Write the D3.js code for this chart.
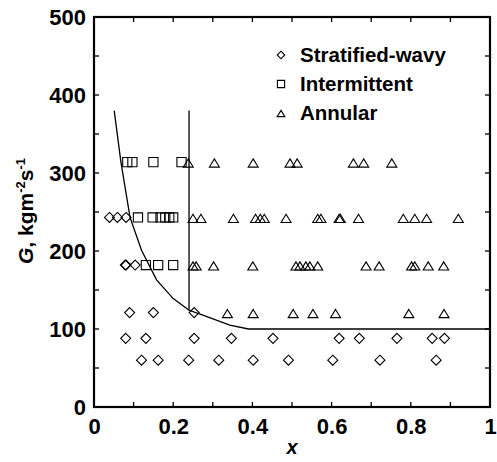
<!DOCTYPE html>
<html>
<head>
<meta charset="utf-8">
<script src="https://cdn.jsdelivr.net/npm/d3@7"></script>
<style>
  html, body { margin: 0; padding: 0; background: #fff; }
  svg { display: block; }
  text { font-family: "Liberation Sans", Arial, Helvetica, sans-serif; font-weight: bold; fill: #000; }
</style>
</head>
<body>
<svg id="chart" width="497" height="462"></svg>
<script>
// Flow-pattern observations: vapour quality x and mass flux G (kg m^-2 s^-1)
const stratifiedX = [0.039, 0.059, 0.081,
                     0.079, 0.081, 0.104,
                     0.09, 0.15, 0.253,
                     0.08, 0.131, 0.253, 0.347, 0.452, 0.619, 0.67, 0.765, 0.854, 0.885,
                     0.12, 0.162, 0.239, 0.315, 0.402, 0.491, 0.603, 0.722, 0.864];
const stratifiedG = [243, 243, 243,
                     182, 182, 182,
                     121, 121, 121,
                     88, 88, 88, 88, 88, 88, 88, 88, 88, 88,
                     60, 60, 60, 60, 60, 60, 60, 60, 60];

const intermittentX = [0.084, 0.097, 0.15, 0.221,
                       0.111, 0.148, 0.168, 0.18, 0.19, 0.2,
                       0.131, 0.162, 0.2];
const intermittentG = [314, 314, 314, 314,
                       243, 243, 243, 243, 243, 243,
                       182, 182, 182];

const annularX = [0.238, 0.304, 0.402, 0.495, 0.513, 0.655, 0.681, 0.752,
                  0.25, 0.27, 0.352, 0.408, 0.42, 0.43, 0.485, 0.565, 0.573, 0.619, 0.622, 0.668, 0.781, 0.81, 0.84, 0.92,
                  0.25, 0.258, 0.302, 0.401, 0.51, 0.52, 0.535, 0.545, 0.565, 0.687, 0.72, 0.802, 0.81, 0.844, 0.883,
                  0.337, 0.402, 0.503, 0.553, 0.61, 0.795, 0.884];
const annularG = [314, 314, 314, 314, 314, 314, 314, 314,
                  243, 243, 243, 243, 243, 243, 243, 243, 243, 243, 243, 243, 243, 243, 243, 243,
                  182, 182, 182, 182, 182, 182, 182, 182, 182, 182, 182, 182, 182, 182, 182,
                  121, 121, 121, 121, 121, 121, 121];

// Transition boundaries
const boundaryX = [0.051, 0.068, 0.091, 0.12, 0.158, 0.2, 0.24, 0.268, 0.343, 0.39, 1.0];
const boundaryG = [380, 314, 243, 201, 163, 139, 124, 119, 105, 100, 100];
const verticalX = [0.24, 0.24];
const verticalG = [380, 124];

const seriesNames = ["Stratified-wavy", "Intermittent", "Annular"];
const xTickValues = [0, 0.2, 0.4, 0.6, 0.8, 1];
const xTickLabels = ["0", "0.2", "0.4", "0.6", "0.8", "1"];
const yTickValues = [0, 100, 200, 300, 400, 500];
const yTickLabels = ["0", "100", "200", "300", "400", "500"];

const svg = d3.select("#chart");
const plotLeft = 94, plotTop = 17, plotW = 396, plotH = 390;

const x = d3.scaleLinear().domain([0, 1]).range([plotLeft, plotLeft + plotW]);
const y = d3.scaleLinear().domain([0, 500]).range([plotTop + plotH, plotTop]);

// Marker shapes centred on (0,0)
function diamond(r) { return `M0,${-r}L${r},0L0,${r}L${-r},0Z`; }
function square(h) { return `M${-h},${-h}H${h}V${h}H${-h}Z`; }
function triangle(w, up, down) { return `M0,${-up}L${w},${down}L${-w},${down}Z`; }
const shapes = [d => diamond(5), d => square(4.6), d => triangle(5, 3.2, 5)];
const legendShapes = [diamond(3.8), square(3.6), triangle(3.9, 2.6, 3.6)];

// Inward ticks on all four sides
const minorX = d3.range(0, 1.0001, 0.1);
const minorY = d3.range(0, 500.001, 50);
const tickLen = 5;
const ticks = svg.append("g").attr("stroke", "#000").attr("stroke-width", 1.3);
minorX.forEach(v => {
  ticks.append("line").attr("x1", x(v)).attr("x2", x(v)).attr("y1", y(0)).attr("y2", y(0) - tickLen);
  ticks.append("line").attr("x1", x(v)).attr("x2", x(v)).attr("y1", y(500)).attr("y2", y(500) + tickLen);
});
minorY.forEach(v => {
  ticks.append("line").attr("y1", y(v)).attr("y2", y(v)).attr("x1", x(0)).attr("x2", x(0) + tickLen);
  ticks.append("line").attr("y1", y(v)).attr("y2", y(v)).attr("x1", x(1)).attr("x2", x(1) - tickLen);
});

// Tick labels via d3 axes (no domain path or tick marks)
const xAxis = d3.axisBottom(x).tickValues(xTickValues).tickSize(0).tickPadding(11)
  .tickFormat((d, i) => xTickLabels[i]);
const gx = svg.append("g").attr("transform", `translate(0,${y(0)})`).call(xAxis);
const yAxis = d3.axisLeft(y).tickValues(yTickValues).tickSize(0).tickPadding(8)
  .tickFormat((d, i) => yTickLabels[i]);
const gy = svg.append("g").attr("transform", `translate(${x(0)},0)`).call(yAxis);
[gx, gy].forEach(g => {
  g.select(".domain").remove();
  g.selectAll("text").attr("font-family", "Liberation Sans, Arial, sans-serif")
    .attr("font-weight", "bold").attr("font-size", 22).attr("fill", "#000");
});

// Frame
svg.append("rect").attr("x", x(0)).attr("y", y(500)).attr("width", plotW).attr("height", plotH)
  .attr("fill", "none").attr("stroke", "#000").attr("stroke-width", 2.2);

// Boundary curves
const line = d3.line().x(d => x(d[0])).y(d => y(d[1]));
svg.append("path").datum(boundaryX.map((v, i) => [v, boundaryG[i]]))
  .attr("d", line).attr("fill", "none").attr("stroke", "#000").attr("stroke-width", 1.3);
svg.append("path").datum(verticalX.map((v, i) => [v, verticalG[i]]))
  .attr("d", line).attr("fill", "none").attr("stroke", "#000").attr("stroke-width", 1.3);

// Data markers
const sets = [
  [stratifiedX, stratifiedG],
  [intermittentX, intermittentG],
  [annularX, annularG]
];
sets.forEach(([xs, gs], k) => {
  svg.append("g").selectAll("path")
    .data(xs.map((v, i) => [v, gs[i]]))
    .join("path")
    .attr("transform", d => `translate(${x(d[0])},${y(d[1])})`)
    .attr("d", shapes[k])
    .attr("fill", "none").attr("stroke", "#000").attr("stroke-width", 1.1);
});

// Legend
const legendY = [55, 84, 113];
const legend = svg.append("g");
seriesNames.forEach((name, i) => {
  legend.append("path").attr("transform", `translate(281,${legendY[i]})`)
    .attr("d", legendShapes[i]).attr("fill", "none").attr("stroke", "#000").attr("stroke-width", 1.1);
  legend.append("text").attr("x", 300).attr("y", legendY[i]).attr("dy", "0.36em")
    .attr("font-size", 20.5).text(name);
});

// Axis titles
svg.append("text").attr("x", x(0.5)).attr("y", 454).attr("text-anchor", "middle")
  .attr("font-size", 20).attr("font-style", "italic").text("x");

const yt = svg.append("text").attr("transform", "translate(33,211) rotate(-90)")
  .attr("text-anchor", "middle").attr("font-size", 21);
yt.append("tspan").attr("font-style", "italic").text("G");
yt.append("tspan").text(", kgm");
yt.append("tspan").attr("font-size", 13).attr("dy", -8).text("-2");
yt.append("tspan").attr("dy", 8).text("s");
yt.append("tspan").attr("font-size", 13).attr("dy", -8).text("-1");
</script>
</body>
</html>
